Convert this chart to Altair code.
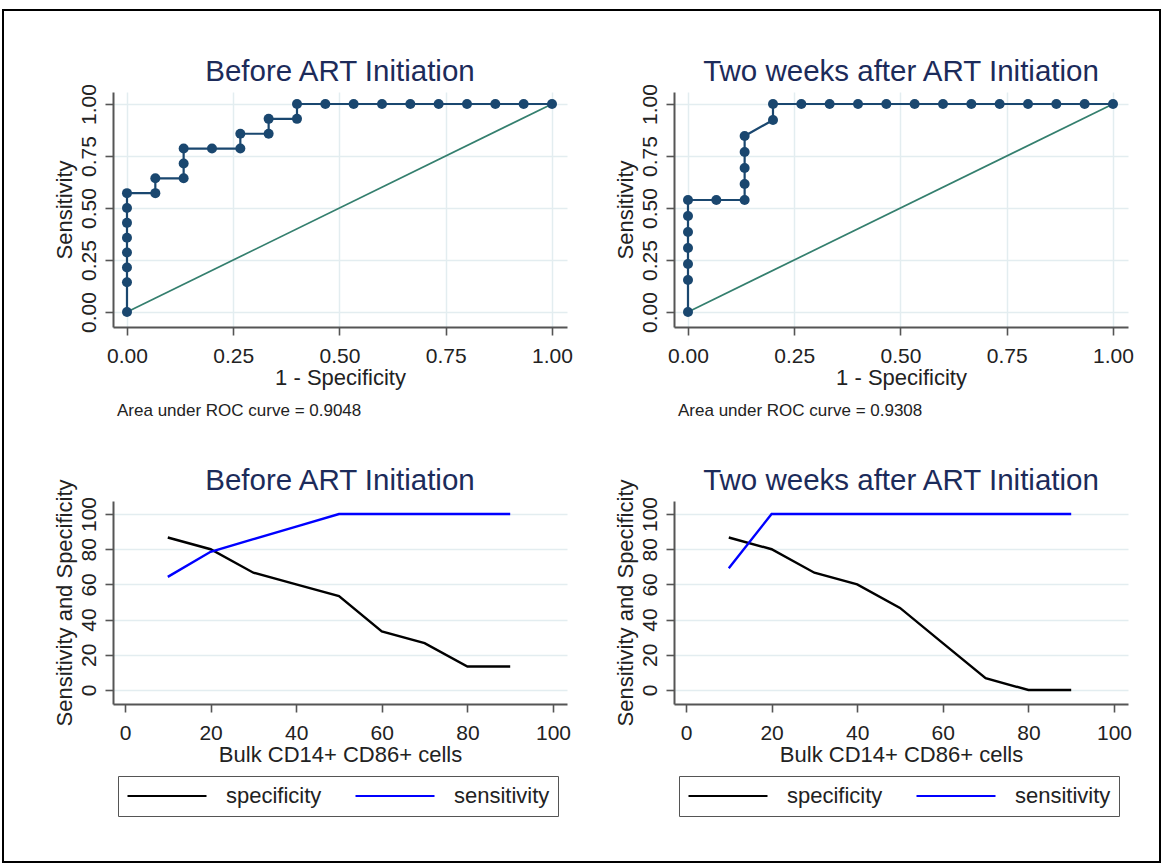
import altair as alt
import pandas as pd

FONT = "Liberation Sans"
NAVY = "#1a476f"
TEAL = "#347f6e"
TITLE_COLOR = "#1c2b5a"
TEXT = "#222222"
AXIS = "#555555"
GRID = "#e3edf0"

panel_titles = ["Before ART Initiation", "Two weeks after ART Initiation"]
auc_labels = ["Area under ROC curve = 0.9048", "Area under ROC curve = 0.9308"]

# ROC curve points (1 - specificity, sensitivity)
before_fpr = [0, 0, 0, 0, 0, 0, 0, 0, 0.0667, 0.0667, 0.1333, 0.1333, 0.1333, 0.2, 0.2667,
              0.2667, 0.3333, 0.3333, 0.4, 0.4, 0.4667, 0.5333, 0.6, 0.6667, 0.7333, 0.8,
              0.8667, 0.9333, 1.0]
before_tpr = [0, 0.1429, 0.2143, 0.2857, 0.3571, 0.4286, 0.5, 0.5714, 0.5714, 0.6429, 0.6429,
              0.7143, 0.7857, 0.7857, 0.7857, 0.8571, 0.8571, 0.9286, 0.9286, 1.0, 1.0, 1.0,
              1.0, 1.0, 1.0, 1.0, 1.0, 1.0, 1.0]
after_fpr = [0, 0, 0, 0, 0, 0, 0, 0.0667, 0.1333, 0.1333, 0.1333, 0.1333, 0.1333, 0.2, 0.2,
             0.2667, 0.3333, 0.4, 0.4667, 0.5333, 0.6, 0.6667, 0.7333, 0.8, 0.8667, 0.9333, 1.0]
after_tpr = [0, 0.1538, 0.2308, 0.3077, 0.3846, 0.4615, 0.5385, 0.5385, 0.5385, 0.6154, 0.6923,
             0.7692, 0.8462, 0.9231, 1.0, 1.0, 1.0, 1.0, 1.0, 1.0, 1.0, 1.0, 1.0, 1.0, 1.0, 1.0, 1.0]
reference_line = [0, 1]

# Sensitivity / specificity by cut-off (%)
cutoffs = [10, 20, 30, 40, 50, 60, 70, 80, 90]
before_specificity = [86.67, 80, 66.67, 60, 53.33, 33.33, 26.67, 13.33, 13.33]
before_sensitivity = [64.29, 78.57, 85.71, 92.86, 100, 100, 100, 100, 100]
after_specificity = [86.67, 80, 66.67, 60, 46.67, 26.67, 6.67, 0, 0]
after_sensitivity = [69.23, 100, 100, 100, 100, 100, 100, 100, 100]
series_names = ["specificity", "sensitivity"]
series_colors = ["#000000", "#0000ff"]

roc_ticks = [0, 0.25, 0.5, 0.75, 1.0]
pct_ticks = [0, 20, 40, 60, 80, 100]

W = 454
H_TOP = 235
H_BOT = 203


def title_mark(text):
    return alt.Chart(pd.DataFrame({"t": [text]})).mark_text(
        align="center", baseline="alphabetic", fontSize=29.5, font=FONT,
        color=TITLE_COLOR).encode(x=alt.value(W / 2), y=alt.value(-11.5), text="t:N")


def y_axis(values, fmt, title):
    return alt.Axis(values=values, format=fmt, title=title, labelAngle=270,
                    labelAlign="center", labelBaseline="alphabetic", labelPadding=10,
                    titlePadding=2, grid=True)


def roc_panel(fpr, tpr, title, auc, with_frame=False):
    df = pd.DataFrame({"fpr": fpr, "tpr": tpr, "step": list(range(len(fpr)))})
    xs = alt.Scale(domain=[-0.0329, 1.0353], nice=False, zero=False)
    ys = alt.Scale(domain=[-0.0721, 1.0577], nice=False, zero=False)
    xax = alt.Axis(values=roc_ticks, format=".2f", title="1 - Specificity", grid=True,
                   labelPadding=10, titlePadding=1)
    diag = alt.Chart(pd.DataFrame({"fpr": reference_line, "tpr": reference_line})).mark_line(
        color=TEAL, strokeWidth=1.7).encode(
        x=alt.X("fpr:Q", scale=xs, axis=xax),
        y=alt.Y("tpr:Q", scale=ys, axis=y_axis(roc_ticks, ".2f", "Sensitivity")))
    line = alt.Chart(df).mark_line(color=NAVY, strokeWidth=2.2).encode(
        x="fpr:Q", y="tpr:Q", order="step:Q")
    pts = alt.Chart(df).mark_circle(color=NAVY, size=100, opacity=1).encode(
        x="fpr:Q", y="tpr:Q")
    note = alt.Chart(pd.DataFrame({"t": [auc]})).mark_text(
        align="left", baseline="middle", fontSize=17, font=FONT, color=TEXT).encode(
        x=alt.value(4), y=alt.value(319), text="t:N")
    layers = [diag, line, pts, note, title_mark(title)]
    if with_frame:
        frame = alt.Chart(pd.DataFrame({"f": [0]})).mark_rect(
            fillOpacity=0, stroke="#000000", strokeWidth=2).encode(
            x=alt.value(-110), x2=alt.value(1047), y=alt.value(-82), y2=alt.value(770))
        layers.append(frame)
    return alt.layer(*layers).properties(width=W, height=H_TOP)


def cut_panel(spec, sens, title):
    rows = []
    for c, v in zip(cutoffs, spec):
        rows.append({"cut": c, "value": v, "series": "specificity"})
    for c, v in zip(cutoffs, sens):
        rows.append({"cut": c, "value": v, "series": "sensitivity"})
    df = pd.DataFrame(rows)
    xs = alt.Scale(domain=[-2.8, 103.27], nice=False, zero=False)
    ys = alt.Scale(domain=[-7.95, 107.4], nice=False, zero=False)
    legend = alt.Legend(title=None, orient="none", legendX=5, legendY=275,
                        direction="horizontal", symbolType="stroke", symbolSize=6241,
                        symbolStrokeWidth=2.2, labelFont=FONT, labelFontSize=22,
                        labelColor=TEXT, labelOffset=18, columnPadding=32,
                        strokeColor=AXIS, padding=8, cornerRadius=0, clipHeight=24)
    lines = alt.Chart(df).mark_line(strokeWidth=2.4).encode(
        x=alt.X("cut:Q", scale=xs,
                axis=alt.Axis(values=pct_ticks, format="d", title="Bulk CD14+ CD86+ cells",
                              grid=False, labelPadding=10, titlePadding=1)),
        y=alt.Y("value:Q", scale=ys,
                axis=y_axis(pct_ticks, "d", "Sensitivity and Specificity")),
        color=alt.Color("series:N", sort=series_names,
                        scale=alt.Scale(domain=series_names, range=series_colors),
                        legend=legend),
    )
    return alt.layer(lines, title_mark(title)).properties(width=W, height=H_BOT)


tl = roc_panel(before_fpr, before_tpr, panel_titles[0], auc_labels[0], with_frame=True)
tr = roc_panel(after_fpr, after_tpr, panel_titles[1], auc_labels[1])
bl = cut_panel(before_specificity, before_sensitivity, panel_titles[0])
br = cut_panel(after_specificity, after_sensitivity, panel_titles[1])

chart = alt.concat(tl, tr, bl, br, columns=2, bounds="flush",
                   spacing={"row": 174, "column": 107}).resolve_scale(
    color="independent").resolve_legend(color="independent").properties(
    padding={"left": 2, "top": 9, "right": 0, "bottom": 0},
    background="white",
).configure_view(stroke=None).configure_axis(
    domainColor=AXIS, domainWidth=2, tickColor=AXIS, tickWidth=1.6, tickSize=8,
    labelFont=FONT, labelFontSize=21, labelColor=TEXT,
    titleFont=FONT, titleFontSize=22, titleColor=TEXT, titleFontWeight="normal",
    gridColor=GRID, gridWidth=1.5,
)

chart.save("out.html", embed_options={"renderer": "svg", "actions": False})
